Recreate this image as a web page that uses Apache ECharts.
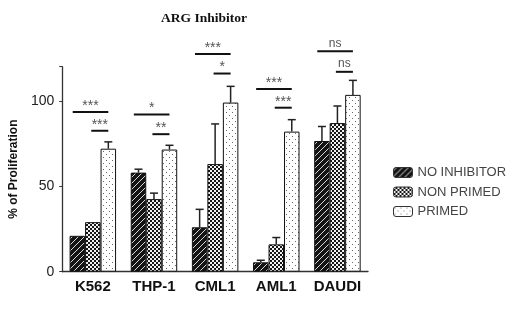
<!DOCTYPE html>
<html>
<head>
<meta charset="utf-8">
<script src="https://cdn.jsdelivr.net/npm/echarts@6/dist/echarts.min.js"></script>
<style>html,body{margin:0;padding:0;background:#fff;}#c{width:520px;height:312px;}</style>
</head>
<body>
<div id="c"></div>
<script>
// ---- data ----
var categories = ['K562', 'THP-1', 'CML1', 'AML1', 'DAUDI'];
var seriesNames = ['NO INHIBITOR', 'NON PRIMED', 'PRIMED'];
var noInhibitor = [21, 58, 26, 5.5, 76.5];
var noInhibitorErrTop = [21, 60, 36.5, 6.7, 85];
var nonPrimed = [29, 42.5, 63, 16, 87];
var nonPrimedErrTop = [29, 46, 86.5, 20, 97];
var primed = [72, 71.5, 99, 82, 103.5];
var primedErrTop = [76, 74, 108.5, 89, 112];
var yTicks = [0, 50, 100];
// significance brackets: [category index, height, type ('long' = bar1-bar3, 'short' = bar2-bar3), label]
var brackets = [
  [0, 93.5, 'long', '***'], [0, 82.5, 'short', '***'],
  [1, 92, 'long', '*'], [1, 80.5, 'short', '**'],
  [2, 127.5, 'long', '***'], [2, 116, 'short', '*'],
  [3, 107, 'long', '***'], [3, 96, 'short', '***'],
  [4, 129, 'long', 'ns'], [4, 117, 'short', 'ns']
];

// ---- patterns ----
function makePattern(kind) {
  var c = document.createElement('canvas');
  var ctx = c.getContext('2d');
  if (kind === 0) {
    c.width = 6; c.height = 6;
    ctx.fillStyle = '#141414'; ctx.fillRect(0, 0, 6, 6);
    ctx.strokeStyle = '#d8d8d8'; ctx.lineWidth = 1;
    ctx.beginPath(); ctx.moveTo(0, 3); ctx.lineTo(3, 0); ctx.stroke();
    ctx.beginPath(); ctx.moveTo(3, 6); ctx.lineTo(6, 3); ctx.stroke();
  } else if (kind === 1) {
    c.width = 4; c.height = 4;
    ctx.fillStyle = '#151515'; ctx.fillRect(0, 0, 4, 4);
    ctx.fillStyle = '#f2f2f2'; ctx.fillRect(0, 0, 2, 2); ctx.fillRect(2, 2, 2, 2);
  } else {
    c.width = 6; c.height = 6;
    ctx.fillStyle = '#ffffff'; ctx.fillRect(0, 0, 6, 6);
    ctx.fillStyle = '#666'; ctx.fillRect(1, 1, 1, 1); ctx.fillRect(4, 4, 1, 1);
  }
  return { image: c, repeat: 'repeat' };
}

var chart = echarts.init(document.getElementById('c'), null, { renderer: 'canvas' });
var CAT_GAP = 0.24;
var values = [noInhibitor, nonPrimed, primed];
var errTops = [noInhibitorErrTop, nonPrimedErrTop, primedErrTop];

function barGeom(api, cat, idx) {
  var band = api.size([1, 0])[0];
  var bw = band * (1 - CAT_GAP) / 3;
  var cx = api.coord([cat, 0])[0];
  return { x: cx + (idx - 1) * bw, w: bw };
}

var series = [];
seriesNames.forEach(function (name, i) {
  series.push({
    name: name, type: 'bar', data: values[i],
    barGap: '0%', barCategoryGap: (CAT_GAP * 100) + '%',
    itemStyle: { color: makePattern(i), borderColor: '#111', borderWidth: 1 },
    emphasis: { disabled: true }, silent: true
  });
});
seriesNames.forEach(function (name, i) {
  series.push({
    type: 'custom', silent: true, z: 3,
    data: categories.map(function (c, k) { return [k, values[i][k], errTops[i][k]]; }),
    renderItem: function (params, api) {
      var cat = api.value(0), v = api.value(1), e = api.value(2);
      if (e <= v) return null;
      var g = barGeom(api, cat, i);
      var y0 = api.coord([cat, v])[1], y1 = api.coord([cat, e])[1];
      var capHalf = 4;
      return { type: 'group', children: [
        { type: 'line', shape: { x1: g.x, y1: y0, x2: g.x, y2: y1 }, style: { stroke: '#222', lineWidth: 1.5 } },
        { type: 'line', shape: { x1: g.x - capHalf, y1: y1, x2: g.x + capHalf, y2: y1 }, style: { stroke: '#222', lineWidth: 1.5 } }
      ] };
    },
    encode: { x: 0, y: 1 }
  });
});
series.push({
  type: 'custom', silent: true, z: 4, clip: false,
  data: brackets.map(function (b) { return [b[0], b[1], b[2] === 'long' ? 0 : 1, b[3]]; }),
  renderItem: function (params, api) {
    var cat = api.value(0), h = api.value(1), type = api.value(2);
    var label = brackets[params.dataIndex][3];
    var g0 = barGeom(api, cat, type === 0 ? 0 : 1);
    var g2 = barGeom(api, cat, 2);
    var x0 = type === 0 ? g0.x - 0.3 * g0.w : g0.x - 0.1 * g0.w;
    var x1 = g2.x;
    var y = api.coord([cat, h])[1];
    var isNs = label === 'ns';
    return { type: 'group', children: [
      { type: 'line', shape: { x1: x0, y1: y, x2: x1, y2: y }, style: { stroke: '#111', lineWidth: 2 } },
      { type: 'text', x: (x0 + x1) / 2, y: y - (isNs ? 8 : 6), style: { text: label, fill: '#555', font: (isNs ? '12px' : '14px') + ' "Liberation Sans", Arial, sans-serif', align: 'center', verticalAlign: 'middle' } }
    ] };
  },
  encode: { x: 0, y: 1 }
});

chart.setOption({
  animation: false,
  backgroundColor: '#fff',
  title: {
    text: 'ARG Inhibitor', left: 199, top: 7, textAlign: 'center',
    textStyle: { fontFamily: '"Liberation Serif", "Times New Roman", serif', fontWeight: 'bold', fontSize: 13.5, color: '#111' }
  },
  legend: {
    data: seriesNames, orient: 'vertical', left: 388, top: 161,
    itemWidth: 19, itemHeight: 10, itemGap: 6.5, selectedMode: false,
    textStyle: { fontFamily: '"Liberation Sans", Arial, sans-serif', fontSize: 13, color: '#444' },
    itemStyle: { borderColor: '#333', borderWidth: 1 }
  },
  grid: { left: 57.5, right: 152, top: 66.7, bottom: 40.3, containLabel: false },
  xAxis: {
    type: 'category', data: categories,
    axisLine: { lineStyle: { color: '#333', width: 1.3 } },
    axisTick: { alignWithLabel: true, length: 4, lineStyle: { color: '#333' } },
    axisLabel: { interval: 0, margin: 8, fontFamily: '"Liberation Sans", Arial, sans-serif', fontSize: 15, fontWeight: 'bold', color: '#111' }
  },
  yAxis: {
    type: 'value', min: 0, max: 120, interval: 50,
    name: '% of Proliferation', nameLocation: 'middle', nameGap: 42,
    nameTextStyle: { fontFamily: '"Liberation Sans", Arial, sans-serif', fontSize: 12, fontWeight: 'bold', color: '#111' },
    axisLine: { show: true, lineStyle: { color: '#333', width: 1.3 } },
    axisTick: { show: true, length: 3, lineStyle: { color: '#333' } },
    splitLine: { show: false },
    axisLabel: {
      margin: 8, fontFamily: '"Liberation Sans", Arial, sans-serif', fontSize: 14, color: '#222',
      formatter: function (v) { return yTicks.indexOf(v) >= 0 ? String(v) : ''; }
    }
  },
  series: series
});
</script>
</body>
</html>
